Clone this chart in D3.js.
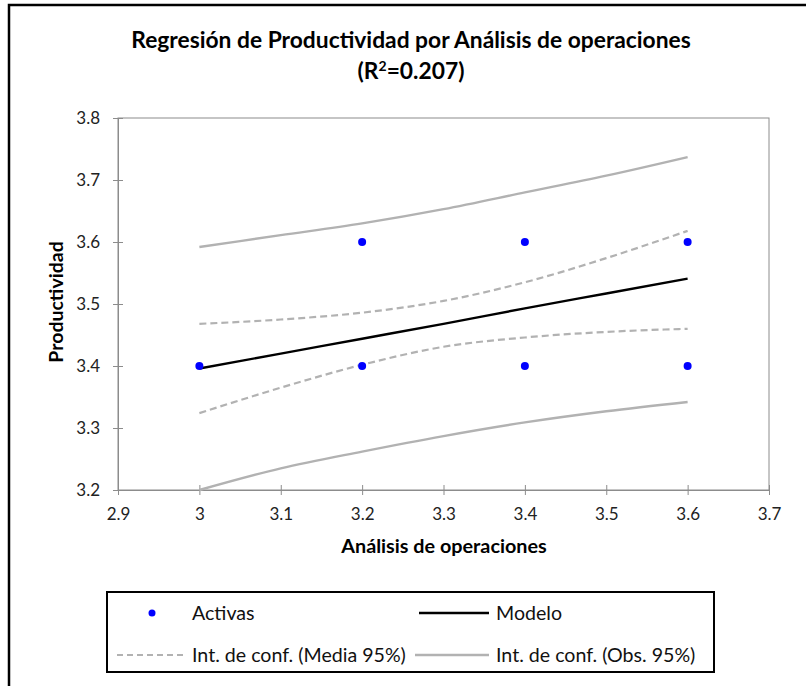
<!DOCTYPE html>
<html>
<head>
<meta charset="utf-8">
<script src="https://cdn.jsdelivr.net/npm/d3@7"></script>
<style>
  body { margin: 0; background: #fff; }
  text { font-family: "Lato", "Open Sans", sans-serif; }
</style>
</head>
<body>
<script>
// observed points
const obsX = [3.0, 3.2, 3.2, 3.4, 3.4, 3.6, 3.6];
const obsY = [3.4, 3.6, 3.4, 3.6, 3.4, 3.6, 3.4];

// curves sampled along the x range
const curveX = [3.0, 3.1, 3.2, 3.3, 3.4, 3.5, 3.6];
const modelY = [3.396, 3.420, 3.444, 3.468, 3.493, 3.517, 3.541];
const meanUpper = [3.468, 3.475, 3.486, 3.505, 3.535, 3.574, 3.618];
const meanLower = [3.324, 3.365, 3.402, 3.431, 3.446, 3.455, 3.460];
const obsUpper = [3.592, 3.611, 3.630, 3.653, 3.680, 3.707, 3.737];
const obsLower = [3.200, 3.235, 3.262, 3.287, 3.309, 3.327, 3.342];

const xTicks = [2.9, 3, 3.1, 3.2, 3.3, 3.4, 3.5, 3.6, 3.7];
const yTicks = [3.2, 3.3, 3.4, 3.5, 3.6, 3.7, 3.8];

const W = 806, H = 686;
const svg = d3.select('body').append('svg')
  .attr('width', W)
  .attr('height', H);

// chart frame (runs off the right and bottom)
svg.append('rect')
  .attr('x', 9).attr('y', 5)
  .attr('width', 820).attr('height', 720)
  .attr('fill', 'none')
  .attr('stroke', '#000')
  .attr('stroke-width', 2.5);

const pLeft = 118, pRight = 769, pTop = 118, pBottom = 490;
const x = d3.scaleLinear().domain([2.9, 3.7]).range([pLeft, pRight]);
const y = d3.scaleLinear().domain([3.2, 3.8]).range([pBottom, pTop]);

// title
svg.append('text')
  .attr('x', 411).attr('y', 48)
  .attr('text-anchor', 'middle')
  .attr('font-size', 22.8).attr('font-weight', 'bold')
  .text('Regresión de Productividad por Análisis de operaciones');
const t2 = svg.append('text')
  .attr('x', 411).attr('y', 79)
  .attr('text-anchor', 'middle')
  .attr('font-size', 22.8).attr('font-weight', 'bold');
t2.append('tspan').text('(R');
t2.append('tspan').attr('dy', -8).attr('font-size', 14).text('2');
t2.append('tspan').attr('dy', 8).text('=0.207)');

// plot box
svg.append('rect')
  .attr('x', pLeft).attr('y', pTop)
  .attr('width', pRight - pLeft).attr('height', pBottom - pTop)
  .attr('fill', 'none')
  .attr('stroke', '#8c8c8c');

// axes
const xAxis = svg.append('g')
  .attr('transform', `translate(0,${pBottom})`)
  .call(d3.axisBottom(x).tickValues(xTicks).tickSize(5).tickFormat(d3.format('')));
xAxis.selectAll('.tick line').attr('y1', -5);
const yAxis = svg.append('g')
  .attr('transform', `translate(${pLeft},0)`)
  .call(d3.axisLeft(y).tickValues(yTicks).tickSize(5).tickFormat(d3.format('')));
yAxis.selectAll('.tick line').attr('x1', 5).attr('x2', -5);

[xAxis, yAxis].forEach(a => {
  a.select('.domain').attr('stroke', '#8c8c8c');
  a.selectAll('.tick line').attr('stroke', '#8c8c8c');
  a.selectAll('.tick text')
    .attr('font-size', 17)
    .attr('fill', '#222')
    .attr('font-family', '"Lato", "Open Sans", sans-serif');
});
xAxis.selectAll('.tick text').attr('y', 18);
yAxis.selectAll('.tick text').attr('x', -18);

// axis titles
svg.append('text')
  .attr('x', 444).attr('y', 553)
  .attr('text-anchor', 'middle')
  .attr('font-size', 19.8).attr('font-weight', 'bold')
  .text('Análisis de operaciones');
svg.append('text')
  .attr('transform', 'translate(63,302) rotate(-90)')
  .attr('text-anchor', 'middle')
  .attr('font-size', 19.5).attr('font-weight', 'bold')
  .text('Productividad');

// lines
const line = d3.line()
  .x((d, i) => x(curveX[i]))
  .y(d => y(d))
  .curve(d3.curveMonotoneX);

const series = [
  { v: obsUpper, stroke: '#b2b2b2', dash: null, w: 2.4 },
  { v: obsLower, stroke: '#b2b2b2', dash: null, w: 2.4 },
  { v: meanUpper, stroke: '#b2b2b2', dash: '7,4', w: 2.2 },
  { v: meanLower, stroke: '#b2b2b2', dash: '7,4', w: 2.2 },
  { v: modelY, stroke: '#000', dash: null, w: 2.4 }
];
svg.selectAll('path.series')
  .data(series)
  .enter()
  .append('path')
  .attr('class', 'series')
  .attr('d', d => line(d.v))
  .attr('fill', 'none')
  .attr('stroke', d => d.stroke)
  .attr('stroke-width', d => d.w)
  .attr('stroke-dasharray', d => d.dash);

// points
svg.selectAll('circle.pt')
  .data(obsX.map((d, i) => ({ x: d, y: obsY[i] })))
  .enter()
  .append('circle')
  .attr('class', 'pt')
  .attr('cx', d => x(d.x))
  .attr('cy', d => y(d.y))
  .attr('r', 4)
  .attr('fill', '#0000ff');

// legend
const lg = svg.append('g');
lg.append('rect')
  .attr('x', 107).attr('y', 592)
  .attr('width', 607).attr('height', 80)
  .attr('fill', '#fff')
  .attr('stroke', '#000')
  .attr('stroke-width', 2);

lg.append('circle').attr('cx', 152).attr('cy', 613).attr('r', 3.5).attr('fill', '#0000ff');
lg.append('line').attr('x1', 419).attr('x2', 489).attr('y1', 613).attr('y2', 613)
  .attr('stroke', '#000').attr('stroke-width', 2.4);
lg.append('line').attr('x1', 117).attr('x2', 187).attr('y1', 655).attr('y2', 655)
  .attr('stroke', '#b2b2b2').attr('stroke-width', 2).attr('stroke-dasharray', '6,4');
lg.append('line').attr('x1', 415).attr('x2', 489).attr('y1', 655).attr('y2', 655)
  .attr('stroke', '#b2b2b2').attr('stroke-width', 2.4);

const legendText = [
  { x: 192, y: 613, t: 'Activas' },
  { x: 496, y: 613, t: 'Modelo' },
  { x: 192, y: 655, t: 'Int. de conf. (Media 95%)' },
  { x: 496, y: 655, t: 'Int. de conf. (Obs. 95%)' }
];
lg.selectAll('text.lt')
  .data(legendText)
  .enter()
  .append('text')
  .attr('class', 'lt')
  .attr('x', d => d.x).attr('y', d => d.y)
  .attr('dy', '0.35em')
  .attr('font-size', 19.6)
  .attr('fill', '#111')
  .text(d => d.t);
</script>
</body>
</html>
